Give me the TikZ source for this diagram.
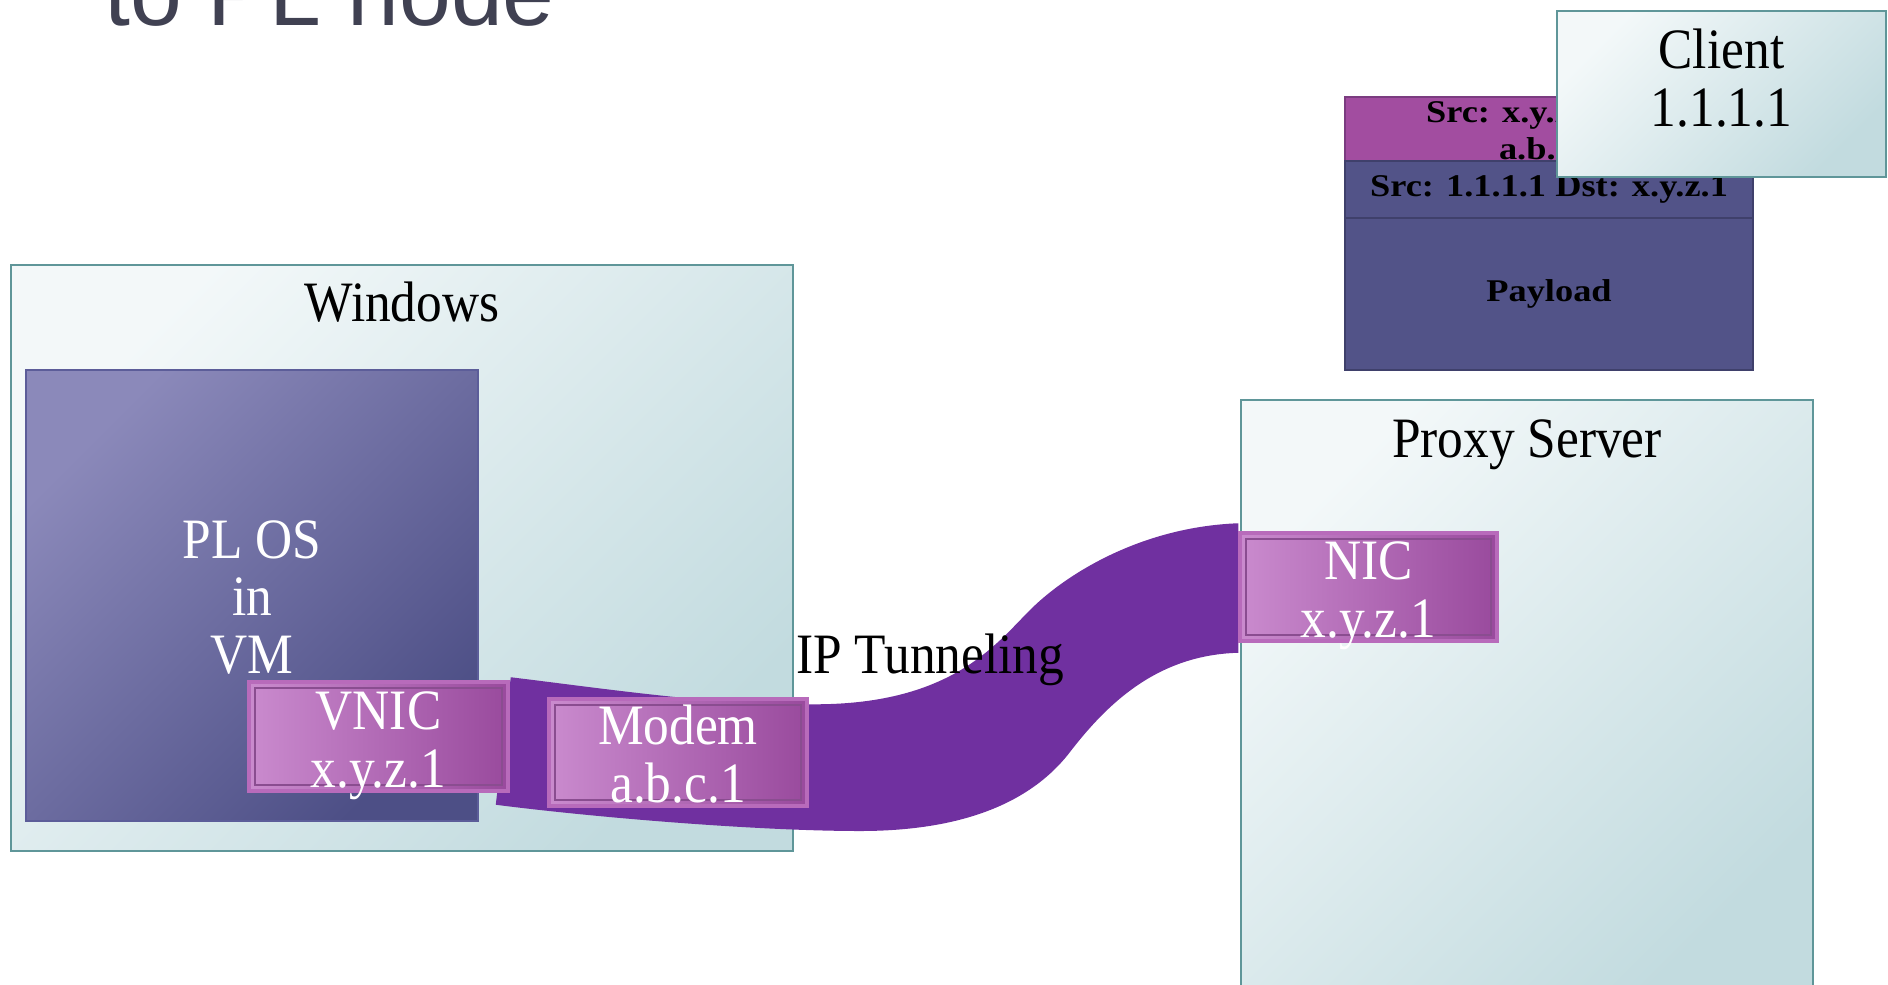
\documentclass[tikz,border=0pt]{standalone}
\usepackage{fontspec}
\setmainfont{Liberation Serif}
\newfontfamily\titlefam{Liberation Sans}
\newfontfamily\labelfam[FakeStretch=0.9]{Liberation Serif}
\newfontfamily\hdrfam[FakeStretch=1.15]{Liberation Serif}
\usepackage{xcolor}
\usepackage{tikz}
\usetikzlibrary{calc,positioning,fit}
\definecolor{hostlight}{HTML}{F3F8F9}
\definecolor{hostdark}{HTML}{C2DBDF}
\definecolor{hostedge}{HTML}{5F9699}
\definecolor{vmlight}{HTML}{8B89BA}
\definecolor{vmdark}{HTML}{4D4F86}
\definecolor{vmedge}{HTML}{5C5D99}
\definecolor{niclight}{HTML}{CA8BCE}
\definecolor{nicdark}{HTML}{994A9D}
\definecolor{nicedge}{HTML}{B86BBB}
\definecolor{nicinner}{HTML}{8A4D90}
\definecolor{tunnelviolet}{HTML}{7030A0}
\definecolor{hdrpink}{HTML}{A24DA0}
\definecolor{hdrpinkedge}{HTML}{7B3C80}
\definecolor{hdrblue}{HTML}{525388}
\definecolor{hdrblueedge}{HTML}{3F406B}
\definecolor{titlegray}{HTML}{404152}
\newcommand{\boxfont}{\labelfam\fontsize{32.5}{33}\selectfont}
\newcommand{\hdrfont}{\hdrfam\fontsize{18}{21}\selectfont\bfseries}
\pgfdeclarelayer{back}
\pgfdeclarelayer{mid}
\pgfsetlayers{back,mid,main}

\begin{document}
\begin{tikzpicture}[
    x=0.02cm, y=-0.02cm,
    nosep/.style={inner sep=0},
    hostbox/.style={nosep, draw=hostedge, line width=1.2pt, top color=hostlight, bottom color=hostdark, shading angle=45},
    vmbox/.style={nosep, draw=vmedge, line width=0.8pt, top color=vmlight, bottom color=vmdark, shading angle=45},
    nicbox/.style={nosep, draw=nicedge, line width=2pt, left color=niclight, right color=nicdark,
        path picture={\draw[nicinner, line width=1.2pt] ([shift={(3.5pt,3.5pt)}]path picture bounding box.south west) rectangle ([shift={(-3.5pt,-3.5pt)}]path picture bounding box.north east);}},
    hdrrow/.style={nosep, line width=1.2pt},
    hdrtext/.style={nosep, align=center, font=\hdrfont},
    boxtitle/.style={nosep, align=center, font=\boxfont},
    whitetext/.style={boxtitle, text=white},
    tunnel/.style={fill=tunnelviolet}
    ]
\useasboundingbox (0,0) rectangle (1888,984);

\node[font=\titlefam\fontsize{53}{60}\selectfont, text=titlegray, anchor=base west, nosep] (title) at (104,25) {to PL node};

\begin{pgfonlayer}{back}
\node[hostbox, fit={(11,265) (793,851)}] (win) {};
\node[vmbox, fit={(26,370) (478,821)}] (vm) {};
\node[hostbox, fit={(1241,400) (1813,1000)}] (proxy) {};
\end{pgfonlayer}
\node[boxtitle, anchor=base] (wintitle) at ($(win.north)+(0,58)$) {Windows};
\node[boxtitle, anchor=base] (proxytitle) at ($(proxy.north)+(0,59)$) {Proxy Server};
\node[whitetext] (vmtxt) at ($(vm.center)+(0,2)$) {PL OS\\in\\VM};

\node[nicbox, fit={(249,682) (508,791)}] (vnic) {};
\node[nicbox, fit={(549,699) (807,806)}] (modem) {};
\node[nicbox, fit={(1240,533) (1497,641)}] (nic) {};
\node[whitetext] (vnictxt) at ($(vnic.center)+(0,9)$) {VNIC\\x.y.z.1};
\node[whitetext] (modemtxt) at ($(modem.center)+(0,2)$) {Modem\\a.b.c.1};
\node[whitetext] (nictxt) at ($(nic.center)+(0,9)$) {NIC\\x.y.z.1};

\begin{pgfonlayer}{mid}
\fill[tunnel] ($(vnic.north east)+(1,-3)$) .. controls (600,688) and (720,706) .. ($(modem.north east)+(0,7)$)
    .. controls (950,706) and (995,645) .. (1030,610)
    .. controls (1065,575) and (1140,527) .. ($(nic.north west)+(0,-8)$)
    -- ($(nic.south west)+(0,10)$)
    .. controls (1160,655) and (1110,700) .. (1070,752)
    .. controls (1030,804) and (960,831) .. (860,831)
    .. controls (760,831) and (600,818) .. ($(vnic.south east)+(-14,12)$) -- cycle;
\end{pgfonlayer}

\node[boxtitle, anchor=base west] (tunlabel) at (796,673) {IP Tunneling};

\node[hdrrow, fill=hdrpink, draw=hdrpinkedge, fit={(1345,97) (1753,161)}] (outerhdr) {};
\node[hdrtext] (outertxt) at ($(outerhdr.center)+(0,2)$) {Src: x.y.z.1 Dst:\\a.b.c.1};
\node[hdrrow, fill=hdrblue, draw=hdrblueedge, fit={(1345,161) (1753,218)}] (innerhdr) {};
\node[hdrtext] (innertxt) at (innerhdr.center) {Src: 1.1.1.1 Dst: x.y.z.1};
\node[hdrrow, fill=hdrblue, draw=hdrblueedge, fit={(1345,218) (1753,370)}] (payload) {};
\node[hdrtext] (payloadtxt) at (payload.center) {Payload};

\node[hostbox, fit={(1557,11) (1886,177)}] (client) {};
\node[boxtitle] (clienttxt) at ($(client.center)+(0,-16)$) {Client\\1.1.1.1};

\end{tikzpicture}
\end{document}
